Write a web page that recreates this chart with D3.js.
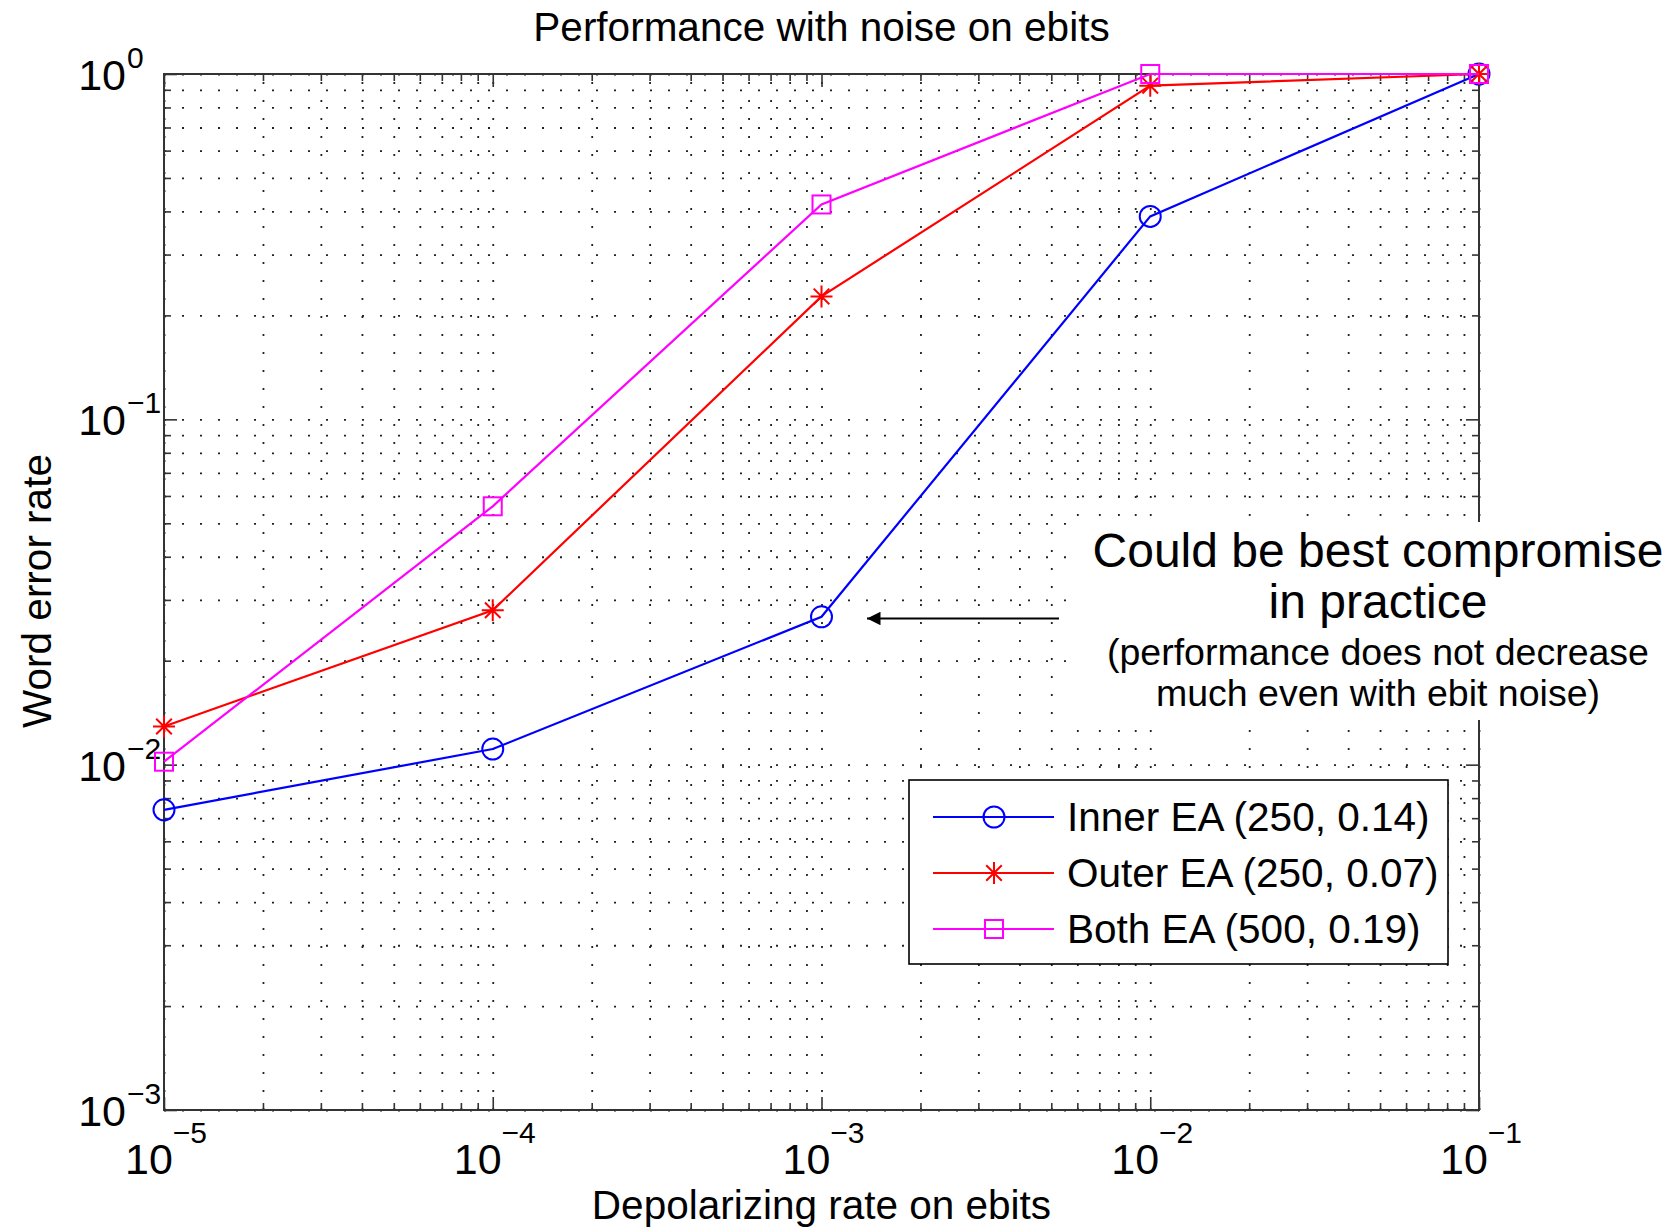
<!DOCTYPE html>
<html>
<head>
<meta charset="utf-8">
<script src="https://cdn.jsdelivr.net/npm/d3@7"></script>
<style>
  body { margin: 0; background: #fff; }
  text { font-family: "Liberation Sans", Arial, Helvetica, sans-serif; fill: #000; }
  .grid line { stroke: #222; stroke-width: 1.8; stroke-dasharray: 2,16; }
  .grid path, .ticks path { display: none; }
  .ticks line { stroke: #333; stroke-width: 1.6; }
</style>
</head>
<body>
<svg id="chart" width="1678" height="1228"></svg>
<script>
// depolarizing rate on ebits (x) and word error rate of each code (y)
var rates = [1e-5, 1e-4, 1e-3, 1e-2, 1e-1];
var innerEA = [0.0074, 0.0111, 0.0268, 0.387, 1.0];
var outerEA = [0.0129, 0.0280, 0.227, 0.925, 1.0];
var bothEA = [0.0102, 0.0560, 0.419, 1.0, 1.0];
var seriesNames = ["Inner EA (250, 0.14)", "Outer EA (250, 0.07)", "Both EA (500, 0.19)"];

// tick labels are 10^exp
var xTickExp = [-5, -4, -3, -2, -1];
var yTickExp = [-3, -2, -1, 0];

var margin = { top: 74, right: 199, bottom: 118, left: 164 },
  width = 1678 - margin.left - margin.right,
  height = 1228 - margin.top - margin.bottom;

var svg = d3.select("#chart");
var g = svg.append("g")
  .attr("transform", "translate(" + margin.left + "," + margin.top + ")");

var x = d3.scaleLog().domain([1e-5, 1e-1]).range([0, width]);
var y = d3.scaleLog().domain([1e-3, 1]).range([height, 0]);

var xMajor = xTickExp.map(function (e) { return Math.pow(10, e); });
var yMajor = yTickExp.map(function (e) { return Math.pow(10, e); });

// minor positions 2..9 inside each decade
function minorTicks(exps) {
  var out = [];
  for (var i = 0; i < exps.length - 1; i++) {
    for (var k = 2; k < 10; k++) out.push(k * Math.pow(10, exps[i]));
  }
  return out;
}
var xMinor = minorTicks(xTickExp);
var yMinor = minorTicks(yTickExp);

// dotted grid on every major and minor tick
g.append("g").attr("class", "grid")
  .attr("transform", "translate(0," + height + ")")
  .call(d3.axisBottom(x).tickValues(xMajor.concat(xMinor)).tickSize(-height).tickFormat(""));
g.append("g").attr("class", "grid")
  .call(d3.axisLeft(y).tickValues(yMajor.concat(yMinor)).tickSize(-width).tickFormat(""));

// inward ticks on all four sides
function ticks(axisFn, scale, values, len, tx, ty) {
  g.append("g").attr("class", "ticks")
    .attr("transform", "translate(" + tx + "," + ty + ")")
    .call(axisFn(scale).tickValues(values).tickSize(-len).tickFormat(""));
}
ticks(d3.axisBottom, x, xMajor, 13, 0, height);
ticks(d3.axisBottom, x, xMinor, 7, 0, height);
ticks(d3.axisTop, x, xMajor, 13, 0, 0);
ticks(d3.axisTop, x, xMinor, 7, 0, 0);
ticks(d3.axisLeft, y, yMajor, 13, 0, 0);
ticks(d3.axisLeft, y, yMinor, 7, 0, 0);
ticks(d3.axisRight, y, yMajor, 13, width, 0);
ticks(d3.axisRight, y, yMinor, 7, width, 0);

g.append("rect")
  .attr("width", width).attr("height", height)
  .attr("fill", "none").attr("stroke", "#333").attr("stroke-width", 2);

// x tick labels
g.selectAll(".xlab")
  .data(xTickExp)
  .enter().append("text")
  .attr("class", "xlab")
  .attr("x", function (d) { return x(Math.pow(10, d)) + 2; })
  .attr("y", height + 64)
  .attr("text-anchor", "middle")
  .style("font-size", "43px")
  .text("10")
  .append("tspan")
  .attr("dy", -31)
  .style("font-size", "30px")
  .text(function (d) { return String(d).replace("-", "\u2212"); });

// y tick labels
var ylab = g.selectAll(".ylab")
  .data(yTickExp)
  .enter().append("g")
  .attr("class", "ylab")
  .attr("transform", function (d) { return "translate(-38," + y(Math.pow(10, d)) + ")"; });
ylab.append("text")
  .attr("text-anchor", "end")
  .attr("y", 16)
  .style("font-size", "43px")
  .text("10");
ylab.append("text")
  .attr("x", 1)
  .attr("y", -6)
  .style("font-size", "30px")
  .text(function (d) { return String(d).replace("-", "\u2212"); });

// title and axis labels
svg.append("text")
  .attr("x", margin.left + width / 2).attr("y", 41)
  .attr("text-anchor", "middle").style("font-size", "40.5px")
  .text("Performance with noise on ebits");
svg.append("text")
  .attr("x", margin.left + width / 2).attr("y", 1219)
  .attr("text-anchor", "middle").style("font-size", "40.5px")
  .text("Depolarizing rate on ebits");
svg.append("text")
  .attr("transform", "translate(51," + (margin.top + height / 2 - 1) + ") rotate(-90)")
  .attr("text-anchor", "middle").style("font-size", "40.5px")
  .text("Word error rate");

// series
var series = [
  { name: seriesNames[0], values: innerEA, color: "#0000ff", marker: "circle" },
  { name: seriesNames[1], values: outerEA, color: "#ff0000", marker: "star" },
  { name: seriesNames[2], values: bothEA, color: "#ff00ff", marker: "square" }
];

var line = d3.line()
  .x(function (d) { return x(d[0]); })
  .y(function (d) { return y(d[1]); });

function drawMarker(sel, type, color) {
  if (type === "circle") {
    sel.append("circle").attr("r", 10.5)
      .attr("fill", "none").attr("stroke", color).attr("stroke-width", 2);
  } else if (type === "square") {
    sel.append("rect").attr("x", -9).attr("y", -9).attr("width", 18).attr("height", 18)
      .attr("fill", "none").attr("stroke", color).attr("stroke-width", 2);
  } else {
    var r = 11, s = 7.8;
    sel.append("path")
      .attr("d", "M0," + -r + "V" + r + "M" + -r + ",0H" + r +
        "M" + -s + "," + -s + "L" + s + "," + s + "M" + -s + "," + s + "L" + s + "," + -s)
      .attr("stroke", color).attr("stroke-width", 2).attr("fill", "none");
  }
}

series.forEach(function (s) {
  var pts = rates.map(function (r, i) { return [r, s.values[i]]; });
  g.append("path")
    .datum(pts)
    .attr("d", line)
    .attr("fill", "none")
    .attr("stroke", s.color)
    .attr("stroke-width", 2.2);
  g.selectAll(null)
    .data(pts)
    .enter().append("g")
    .attr("transform", function (d) { return "translate(" + x(d[0]) + "," + y(d[1]) + ")"; })
    .each(function () { drawMarker(d3.select(this), s.marker, s.color); });
});

// legend
var legend = svg.append("g").attr("transform", "translate(909,780)");
legend.append("rect")
  .attr("width", 539).attr("height", 184)
  .attr("fill", "#fff").attr("stroke", "#000").attr("stroke-width", 1.6);
var item = legend.selectAll(".item")
  .data(series)
  .enter().append("g")
  .attr("transform", function (d, i) { return "translate(0," + (37 + i * 56) + ")"; });
item.append("line")
  .attr("x1", 24).attr("x2", 145)
  .attr("stroke", function (d) { return d.color; })
  .attr("stroke-width", 2);
item.append("g")
  .attr("transform", "translate(85,0)")
  .each(function (d) { drawMarker(d3.select(this), d.marker, d.color); });
item.append("text")
  .attr("x", 158).attr("y", 14)
  .style("font-size", "40.5px")
  .text(function (d) { return d.name; });

// annotation box with arrow
svg.append("rect")
  .attr("x", 1076).attr("y", 522).attr("width", 602).attr("height", 198)
  .attr("fill", "#fff");
var note = [
  { text: "Could be best compromise", y: 567, size: 48 },
  { text: "in practice", y: 618, size: 48 },
  { text: "(performance does not decrease", y: 665, size: 37.5 },
  { text: "much even with ebit noise)", y: 706, size: 37.5 }
];
svg.selectAll(".note")
  .data(note)
  .enter().append("text")
  .attr("class", "note")
  .attr("x", 1378).attr("y", function (d) { return d.y; })
  .attr("text-anchor", "middle")
  .style("font-size", function (d) { return d.size + "px"; })
  .text(function (d) { return d.text; });

svg.append("defs").append("marker")
  .attr("id", "arrow")
  .attr("viewBox", "0 0 10 10")
  .attr("refX", 10).attr("refY", 5)
  .attr("markerWidth", 9).attr("markerHeight", 7.5)
  .attr("markerUnits", "strokeWidth")
  .attr("orient", "auto")
  .append("path").attr("d", "M0,0L10,5L0,10Z").attr("fill", "#000");
svg.append("line")
  .attr("x1", 1059).attr("y1", 618.5).attr("x2", 867).attr("y2", 618.5)
  .attr("stroke", "#000").attr("stroke-width", 1.8)
  .attr("marker-end", "url(#arrow)");
</script>
</body>
</html>
